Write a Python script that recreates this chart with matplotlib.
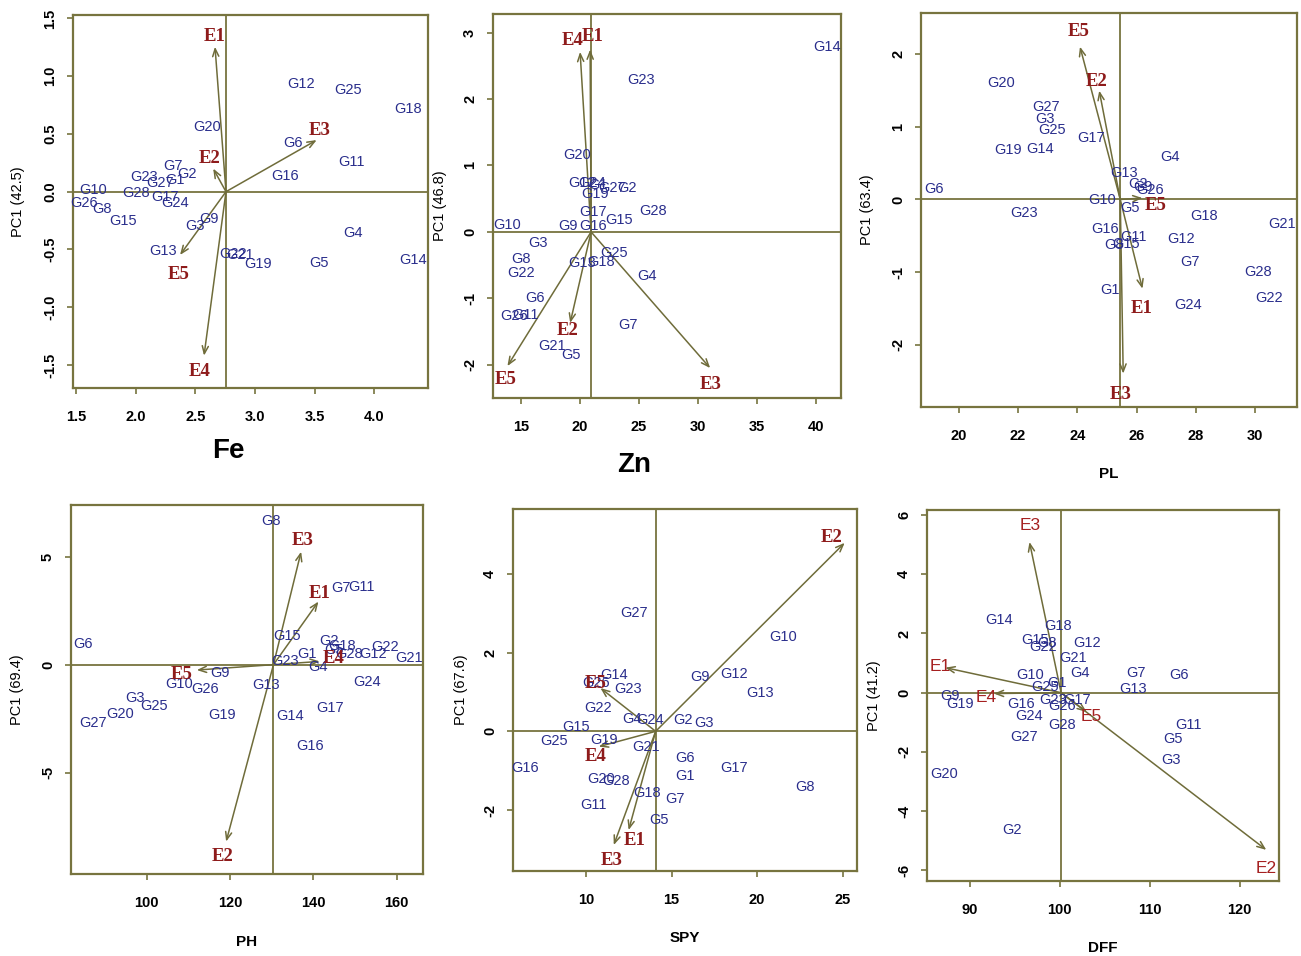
import matplotlib
matplotlib.use("Agg")
import matplotlib.pyplot as plt

# ---------------- data ----------------
genotypes = [f"G{i}" for i in range(1, 29)]

# Fe
fe_gx = [2.33, 2.427, 2.497, 3.824, 3.536, 3.321, 2.31, 1.715, 2.617, 1.64, 3.81, 3.385, 2.232, 4.327,
         1.891, 3.251, 2.246, 4.285, 3.028, 2.595, 2.874, 2.818, 2.073, 2.33, 3.777, 1.567, 2.204, 2.003]
fe_gy = [0.10, 0.153, -0.294, -0.36, -0.62, 0.424, 0.222, -0.147, -0.237, 0.014, 0.26, 0.93, -0.51, -0.59,
         -0.254, 0.138, -0.05, 0.72, -0.626, 0.557, -0.55, -0.54, 0.13, -0.10, 0.88, -0.095, 0.072, -0.014]
fe_env = ["E1", "E2", "E3", "E4", "E5"]
fe_ex = [2.665, 2.65, 3.517, 2.573, 2.372]
fe_ey = [1.255, 0.20, 0.447, -1.42, -0.548]
fe_lx = [2.665, 2.617, 3.539, 2.539, 2.363]
fe_ly = [1.34, 0.288, 0.534, -1.557, -0.72]
fe_origin = (2.757, 0.0)

# Zn
zn_gx = [21.57, 23.97, 16.50, 25.67, 19.26, 16.21, 24.06, 15.0, 18.98, 13.87, 15.37, 20.16, 20.16, 40.96,
         23.35, 21.15, 21.15, 21.77, 21.29, 19.74, 17.62, 15.0, 25.19, 21.01, 22.93, 14.44, 22.70, 26.17]
zn_gy = [0.706, 0.666, -0.17, -0.67, -1.86, -1.0, -1.40, -0.41, 0.095, 0.105, -1.25, 0.731, -0.47, 2.79,
         0.18, 0.095, 0.296, -0.456, 0.571, 1.157, -1.72, -0.62, 2.29, 0.731, -0.31, -1.27, 0.656, 0.32]
zn_env = ["E1", "E2", "E3", "E4", "E5"]
zn_ex = [20.87, 19.18, 31.03, 20.02, 13.87]
zn_ey = [2.745, -1.37, -2.05, 2.71, -2.02]
zn_lx = [21.09, 18.98, 31.03, 19.40, 13.76]
zn_ly = [2.94, -1.48, -2.30, 2.886, -2.22]
zn_origin = (20.95, 0.0)

# PL
pl_gx = [25.10, 26.06, 22.91, 27.13, 25.78, 19.16, 27.80, 25.24, 26.23, 24.84, 25.89, 27.49, 25.59, 22.74,
         25.66, 24.95, 24.48, 28.29, 21.67, 21.44, 30.93, 30.48, 22.21, 27.73, 23.13, 26.45, 22.93, 30.11]
pl_gy = [-1.25, 0.21, 1.11, 0.58, -0.124, 0.15, -0.86, -0.63, 0.166, -0.01, -0.515, -0.55, 0.368, 0.70,
         -0.62, -0.41, 0.85, -0.23, 0.68, 1.60, -0.34, -1.356, -0.18, -1.457, 0.956, 0.13, 1.27, -1.0]
pl_env = ["E1", "E2", "E3", "E5", "E5"]
pl_ex = [26.20, 24.74, 25.55, 26.2, 24.09]
pl_ey = [-1.23, 1.50, -2.40, 0.02, 2.106]
pl_lx = [26.17, 24.65, 25.47, 26.66, 24.03]
pl_ly = [-1.50, 1.62, -2.685, -0.078, 2.31]
pl_origin = (25.45, 0.0)

# PH
ph_gx = [138.5, 143.8, 97.2, 141.2, 145.0, 84.8, 146.56, 129.76, 117.6, 107.84, 151.44, 154.24, 128.64, 134.4,
         133.76, 139.2, 144.0, 146.9, 118.0, 93.6, 163.04, 157.2, 133.2, 152.8, 101.76, 114.0, 87.2, 148.6]
ph_gy = [0.50, 1.08, -1.53, -0.10, 0.68, 0.957, 3.53, 6.67, -0.40, -0.895, 3.61, 0.49, -0.94, -2.38,
         1.34, -3.77, -2.02, 0.88, -2.33, -2.28, 0.29, 0.83, 0.185, -0.79, -1.90, -1.14, -2.72, 0.50]
ph_env = ["E1", "E2", "E3", "E4", "E5"]
ph_ex = [141.2, 119.04, 137.04, 141.5, 112.0]
ph_ey = [2.92, -8.19, 5.23, 0.15, -0.25]
ph_lx = [141.44, 118.24, 137.44, 144.8, 108.4]
ph_ly = [3.30, -8.89, 5.74, 0.30, -0.45]
ph_origin = (130.4, 0.0)

# SPY
spy_gx = [15.81, 15.65, 16.88, 12.69, 14.25, 15.81, 15.18, 22.82, 16.64, 21.55, 10.41, 18.63, 20.15, 11.62,
          9.42, 6.45, 18.67, 13.57, 11.03, 10.88, 13.53, 10.68, 12.44, 13.76, 8.15, 10.60, 12.82, 11.75]
spy_gy = [-1.13, 0.29, 0.22, 0.306, -2.26, -0.69, -1.71, -1.41, 1.39, 2.39, -1.876, 1.46, 0.985, 1.43,
          0.12, -0.94, -0.92, -1.56, -0.22, -1.22, -0.39, 0.586, 1.08, 0.29, -0.24, 1.22, 3.0, -1.26]
spy_env = ["E1", "E2", "E3", "E4", "E5"]
spy_ex = [12.49, 25.12, 11.62, 10.74, 10.84]
spy_ey = [-2.51, 4.79, -2.89, -0.39, 1.10]
spy_lx = [12.82, 24.38, 11.48, 10.55, 10.58]
spy_ly = [-2.77, 4.93, -3.29, -0.645, 1.22]
spy_origin = (14.07, 0.0)

# DFF
dff_gx = [99.68, 94.69, 112.35, 102.26, 112.61, 113.27, 108.47, 98.64, 87.86, 96.72, 114.27, 103.0, 108.18, 93.32,
          97.28, 95.69, 101.9, 99.86, 88.97, 87.12, 101.53, 98.2, 99.31, 96.61, 98.39, 100.23, 96.06, 100.23]
dff_gy = [0.33, -4.65, -2.26, 0.665, -1.55, 0.586, 0.676, 1.68, -0.12, 0.586, -1.10, 1.68, 0.11, 2.47,
          1.77, -0.37, -0.26, 2.24, -0.37, -2.76, 1.18, 1.54, -0.26, -0.80, 0.19, -0.46, -1.50, -1.08]
dff_env = ["E1", "E2", "E3", "E4", "E5"]
dff_ex = [87.30, 122.95, 96.65, 92.7, 103.0]
dff_ey = [0.845, -5.31, 5.09, -0.03, -0.65]
dff_lx = [86.75, 122.95, 96.72, 91.85, 103.56]
dff_ly = [0.90, -5.95, 5.66, -0.17, -0.80]
dff_origin = (100.16, 0.0)

# axis texts / ticks
fe_xticks = [1.5, 2.0, 2.5, 3.0, 3.5, 4.0]
fe_yticks = [-1.5, -1.0, -0.5, 0.0, 0.5, 1.0, 1.5]
zn_xticks = [15, 20, 25, 30, 35, 40]
zn_yticks = [-2, -1, 0, 1, 2, 3]
pl_xticks = [20, 22, 24, 26, 28, 30]
pl_yticks = [-2, -1, 0, 1, 2]
ph_xticks = [100, 120, 140, 160]
ph_yticks = [-5, 0, 5]
spy_xticks = [10, 15, 20, 25]
spy_yticks = [-2, 0, 2, 4]
dff_xticks = [90, 100, 110, 120]
dff_yticks = [-6, -4, -2, 0, 2, 4, 6]

# ---------------- style ----------------
W, H = 1301, 956
FRAME = "#77743f"
ARROW = "#6f6c3a"
GCOL = "#2a2e8c"
ECOL = "#8e1b1b"
SANS = ["Liberation Sans", "DejaVu Sans"]
SERIF = ["Liberation Serif", "DejaVu Serif"]

fig = plt.figure(figsize=(W / 100, H / 100), dpi=100)


def make_axes(l, t, r, b):
    return fig.add_axes([l / W, 1 - b / H, (r - l) / W, (b - t) / H])


def panel(box, xlim, ylim, xticks, yticks, yfmt, gx, gy, env, ex, ey, lx, ly, origin,
          ylabel, xlabel, xl_bold, xl_size, xl_pos, yl_x, e_serif=True):
    ax = make_axes(*box)
    ax.set_xlim(*xlim)
    ax.set_ylim(*ylim)
    for s in ax.spines.values():
        s.set_color(FRAME)
        s.set_linewidth(1.6)
    ax.axhline(origin[1], color=FRAME, lw=1.3, zorder=1)
    ax.axvline(origin[0], color=FRAME, lw=1.3, zorder=1)
    ax.set_xticks(xticks)
    ax.set_xticklabels([f"{v:g}" if not isinstance(v, float) or v != int(v) else f"{v:.1f}" for v in xticks],
                       fontfamily=SANS, fontweight="bold", fontsize=10.5)
    ax.set_yticks(yticks)
    ax.set_yticklabels([yfmt(v) for v in yticks], rotation=90, va="center",
                       fontfamily=SANS, fontweight="bold", fontsize=10.5)
    ax.tick_params(axis="both", direction="out", length=4.5, width=1.2, color=FRAME)
    ax.tick_params(axis="x", pad=11)
    ax.tick_params(axis="y", pad=7)
    for x, y, g in zip(gx, gy, genotypes):
        ax.text(x, y, g, color=GCOL, fontsize=10.5, fontfamily=SANS, ha="center", va="center", zorder=3)
    for i, e in enumerate(env):
        ax.annotate("", xy=(ex[i], ey[i]), xytext=origin,
                    arrowprops=dict(arrowstyle="->,head_length=0.55,head_width=0.22",
                                    color=ARROW, lw=1.1, shrinkA=0, shrinkB=0), zorder=2)
        if e_serif:
            ax.text(lx[i], ly[i], e, color=ECOL, fontsize=13.5, fontfamily=SERIF, fontweight="bold",
                    ha="center", va="center", zorder=4)
        else:
            ax.text(lx[i], ly[i], e, color="#a52020", fontsize=12.5, fontfamily=SANS,
                    ha="center", va="center", zorder=4)
    ax.set_ylabel(ylabel, fontfamily=SANS, fontsize=10.5)
    ax.yaxis.set_label_coords(yl_x, 0.5)
    ax.set_xlabel(xlabel, fontfamily=SANS, fontsize=xl_size, fontweight="bold" if xl_bold else "normal")
    ax.xaxis.set_label_coords(*xl_pos)
    return ax


def f1(v):
    return f"{v:.1f}"


def fint(v):
    return f"{v:g}"


panel((73, 15, 428, 388), (1.475, 4.45), (-1.70, 1.53), fe_xticks, fe_yticks, f1,
      fe_gx, fe_gy, fe_env, fe_ex, fe_ey, fe_lx, fe_ly, fe_origin,
      "PC1 (42.5)", "Fe", True, 20, (0.437, -0.135), -0.135)
panel((493, 14, 841, 398), (12.65, 42.1), (-2.5, 3.28), zn_xticks, zn_yticks, fint,
      zn_gx, zn_gy, zn_env, zn_ex, zn_ey, zn_lx, zn_ly, zn_origin,
      "PC1 (46.8)", "Zn", True, 20, (0.405, -0.14), -0.132)
panel((921, 13, 1297, 407), (18.72, 31.42), (-2.86, 2.57), pl_xticks, pl_yticks, fint,
      pl_gx, pl_gy, pl_env, pl_ex, pl_ey, pl_lx, pl_ly, pl_origin,
      "PC1 (63.4)", "PL", True, 11, (0.5, -0.152), -0.125)
panel((71, 505, 423, 874), (81.8, 166.3), (-9.69, 7.39), ph_xticks, ph_yticks, fint,
      ph_gx, ph_gy, ph_env, ph_ex, ph_ey, ph_lx, ph_ly, ph_origin,
      "PC1 (69.4)", "PH", True, 11, (0.5, -0.165), -0.134)
panel((513, 509, 857, 871), (5.73, 25.84), (-3.55, 5.65), spy_xticks, spy_yticks, fint,
      spy_gx, spy_gy, spy_env, spy_ex, spy_ey, spy_lx, spy_ly, spy_origin,
      "PC1 (67.6)", "SPY", True, 11, (0.5, -0.166), -0.131)
panel((927, 510, 1279, 881), (85.27, 124.36), (-6.36, 6.17), dff_xticks, dff_yticks, fint,
      dff_gx, dff_gy, dff_env, dff_ex, dff_ey, dff_lx, dff_ly, dff_origin,
      "PC1 (41.2)", "DFF", True, 11, (0.5, -0.162), -0.131, e_serif=False)

fig.savefig("out.png", dpi=100)
